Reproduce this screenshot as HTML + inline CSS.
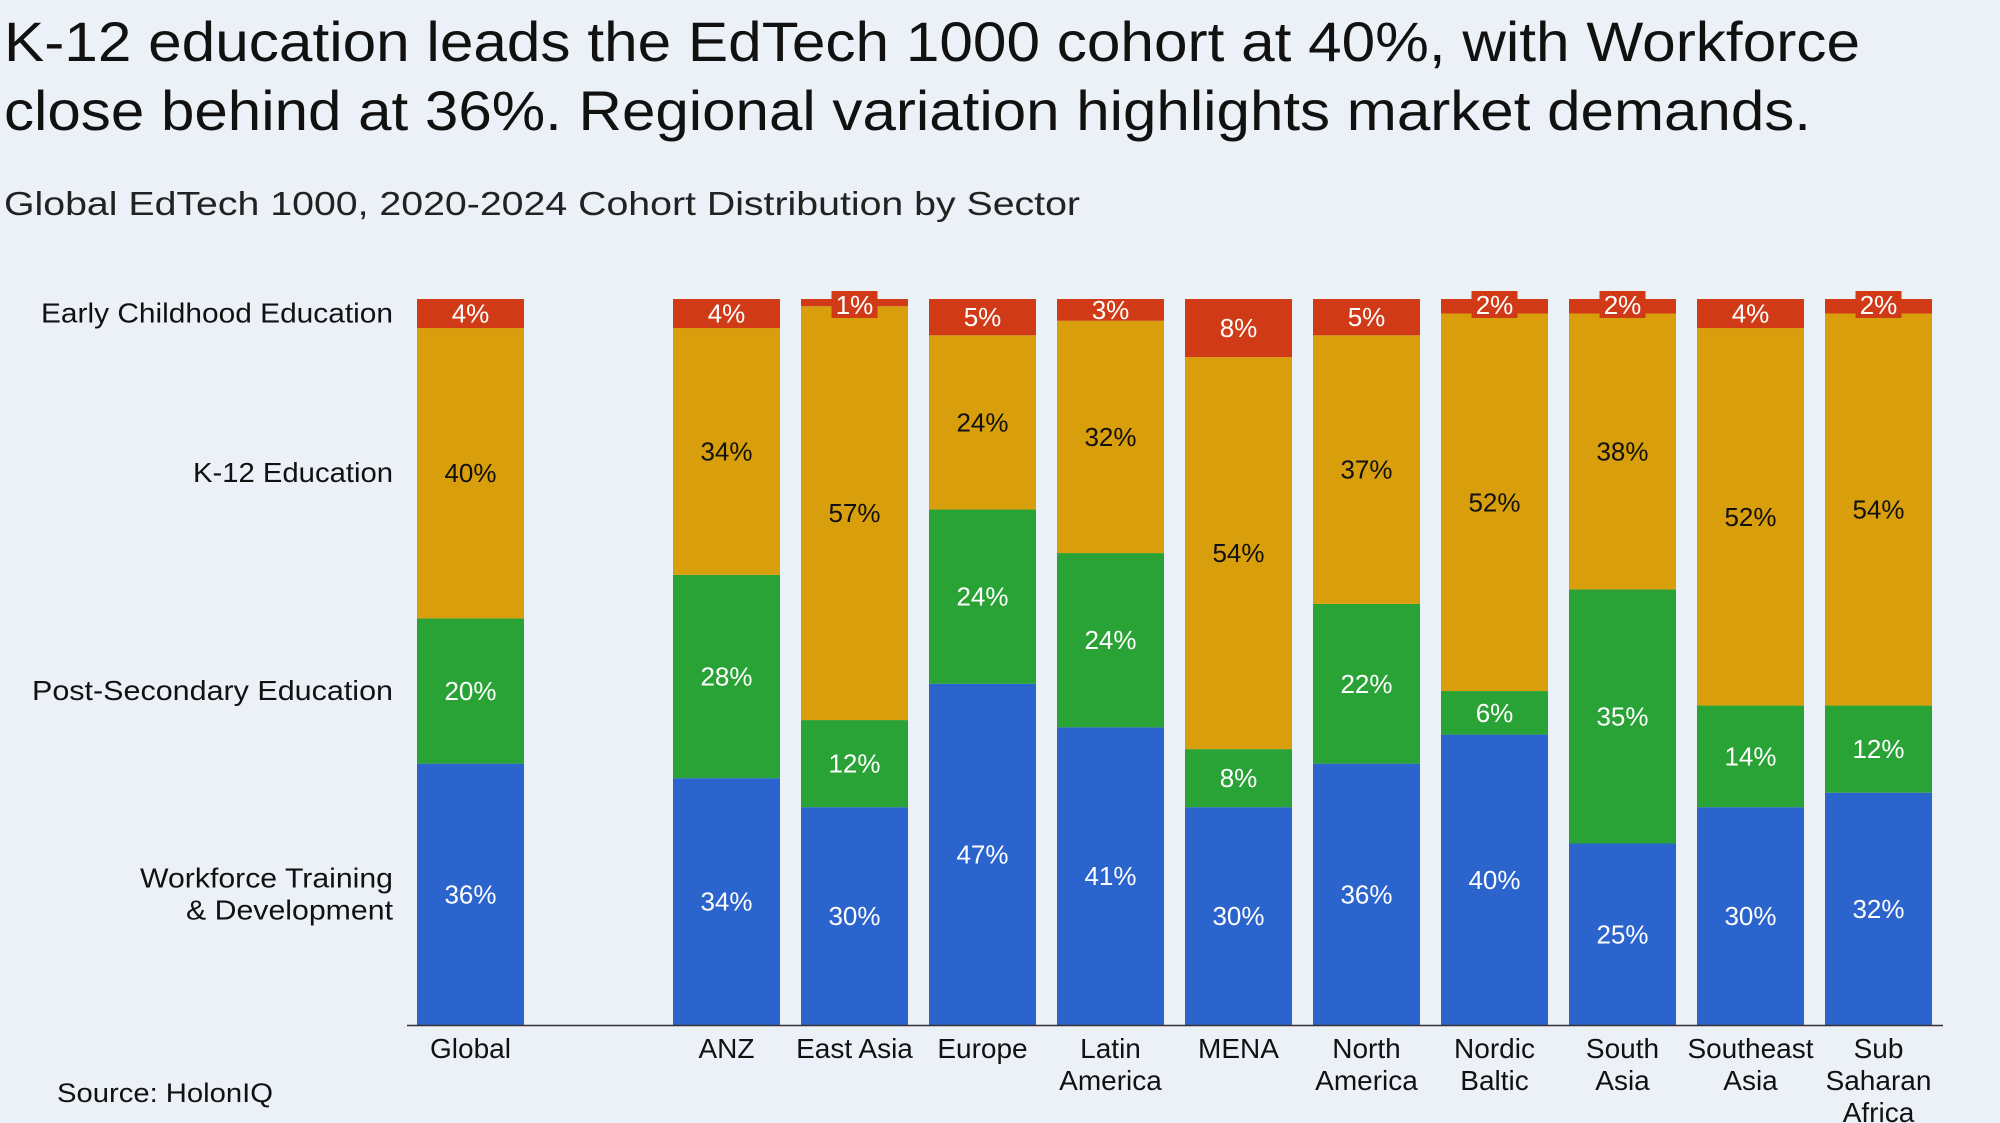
<!DOCTYPE html>
<html><head><meta charset="utf-8"><style>
html,body{margin:0;padding:0;background:#ECF0F7;}
svg{display:block;font-family:"Liberation Sans",sans-serif;}
</style></head><body>
<svg id="chart" width="2000" height="1123" viewBox="0 0 2000 1123">
<rect width="2000" height="1123" fill="#ECF0F7"/>
<text x="4" y="61" font-size="56" fill="#111" textLength="1856" lengthAdjust="spacingAndGlyphs">K-12 education leads the EdTech 1000 cohort at 40%, with Workforce</text>
<text x="4" y="130" font-size="56" fill="#111" textLength="1807" lengthAdjust="spacingAndGlyphs">close behind at 36%. Regional variation highlights market demands.</text>
<text x="4" y="215" font-size="33" fill="#222" textLength="1076" lengthAdjust="spacingAndGlyphs">Global EdTech 1000, 2020-2024 Cohort Distribution by Sector</text>
<text x="57" y="1102" font-size="27" fill="#111" textLength="216" lengthAdjust="spacingAndGlyphs">Source: HolonIQ</text>
<g id="plot"></g>
</svg>
<script>
const categories = ["Global","ANZ","East Asia","Europe","Latin America","MENA","North America","Nordic Baltic","South Asia","Southeast Asia","Sub Saharan Africa"];
const categoryLines = [["Global"],["ANZ"],["East Asia"],["Europe"],["Latin","America"],["MENA"],["North","America"],["Nordic","Baltic"],["South","Asia"],["Southeast","Asia"],["Sub","Saharan","Africa"]];
const slots = [0,2,3,4,5,6,7,8,9,10,11];
const seriesNames = ["Workforce Training & Development","Post-Secondary Education","K-12 Education","Early Childhood Education"];
const workforce = [36,34,30,47,41,30,36,40,25,30,32];
const postSecondary = [20,28,12,24,24,8,22,6,35,14,12];
const k12 = [40,34,57,24,32,54,37,52,38,52,54];
const earlyChildhood = [4,4,1,5,3,8,5,2,2,4,2];

const NS="http://www.w3.org/2000/svg";
const plot=document.getElementById('plot');
const colors=["#2B64CC","#2AA336","#D89E0C","#D13A17"];
const textCol=["#fff","#fff","#111","#fff"];
const x0=417, pitch=128, bw=107, yTop=299, yBot=1025;
const xScale=i=>x0+slots[i]*pitch;
const yScale=f=>yBot-f*(yBot-yTop);
function mk(tag,attrs){const e=document.createElementNS(NS,tag);for(const k in attrs)e.setAttribute(k,attrs[k]);return e;}
const series=[workforce,postSecondary,k12,earlyChildhood];
const labelsLater=[];
categories.forEach((c,i)=>{
  const total=series.reduce((s,a)=>s+a[i],0);
  let cum=0;
  series.forEach((arr,si)=>{
    const v=arr[i];
    const y1=yScale(cum/total), y2=yScale((cum+v)/total);
    cum+=v;
    const r=mk('rect',{x:xScale(i),y:y2,width:bw,height:y1-y2,fill:colors[si]});
    
    
    plot.appendChild(r);
    labelsLater.push({i,si,v,y1,y2});
  });
});
labelsLater.forEach(o=>{
  const cx=xScale(o.i)+bw/2;
  let cy=(o.y1+o.y2)/2;
  if(o.si===3 && o.v<=2){
    cy=o.y2+6;
    const b=mk('rect',{x:cx-23,y:cy-14,width:46,height:27,fill:colors[3]});
    
    
    plot.appendChild(b);
  }
  const t=mk('text',{x:cx,y:cy+9,'text-anchor':'middle','font-size':26,fill:textCol[o.si]});
  t.textContent=o.v+'%';
  
  
  plot.appendChild(t);
});
const ax=mk('line',{x1:407,x2:1943,y1:yBot+0.5,y2:yBot+0.5,stroke:'#333','stroke-width':1.5});


plot.appendChild(ax);
categoryLines.forEach((lines,i)=>{
  lines.forEach((ln,k)=>{
    const t=mk('text',{x:xScale(i)+bw/2,y:1058+k*32,'text-anchor':'middle','font-size':28,fill:'#111'});
    t.textContent=ln;
    
    
    plot.appendChild(t);
  });
});
const gTotal=series.reduce((s,a)=>s+a[0],0);
let gc=0;
const yLabelLines=[["Workforce Training ","& Development"],["Post-Secondary Education"],["K-12 Education"],["Early Childhood Education"]];
const yLabelWidths=[[253,207],[361],[200],[352]];
series.forEach((arr,si)=>{
  const v=arr[0];
  const c=yScale((gc+v/2)/gTotal); gc+=v;
  const lines=yLabelLines[si];
  lines.forEach((ln,k)=>{
    const y=c+9+(k-(lines.length-1)/2)*32;
    const t=mk('text',{x:393,y:y,'text-anchor':'end','font-size':28,fill:'#111',textLength:yLabelWidths[si][k],lengthAdjust:'spacingAndGlyphs'});
    t.textContent=ln;
    
    
    plot.appendChild(t);
  });
});
</script>
</body></html>
